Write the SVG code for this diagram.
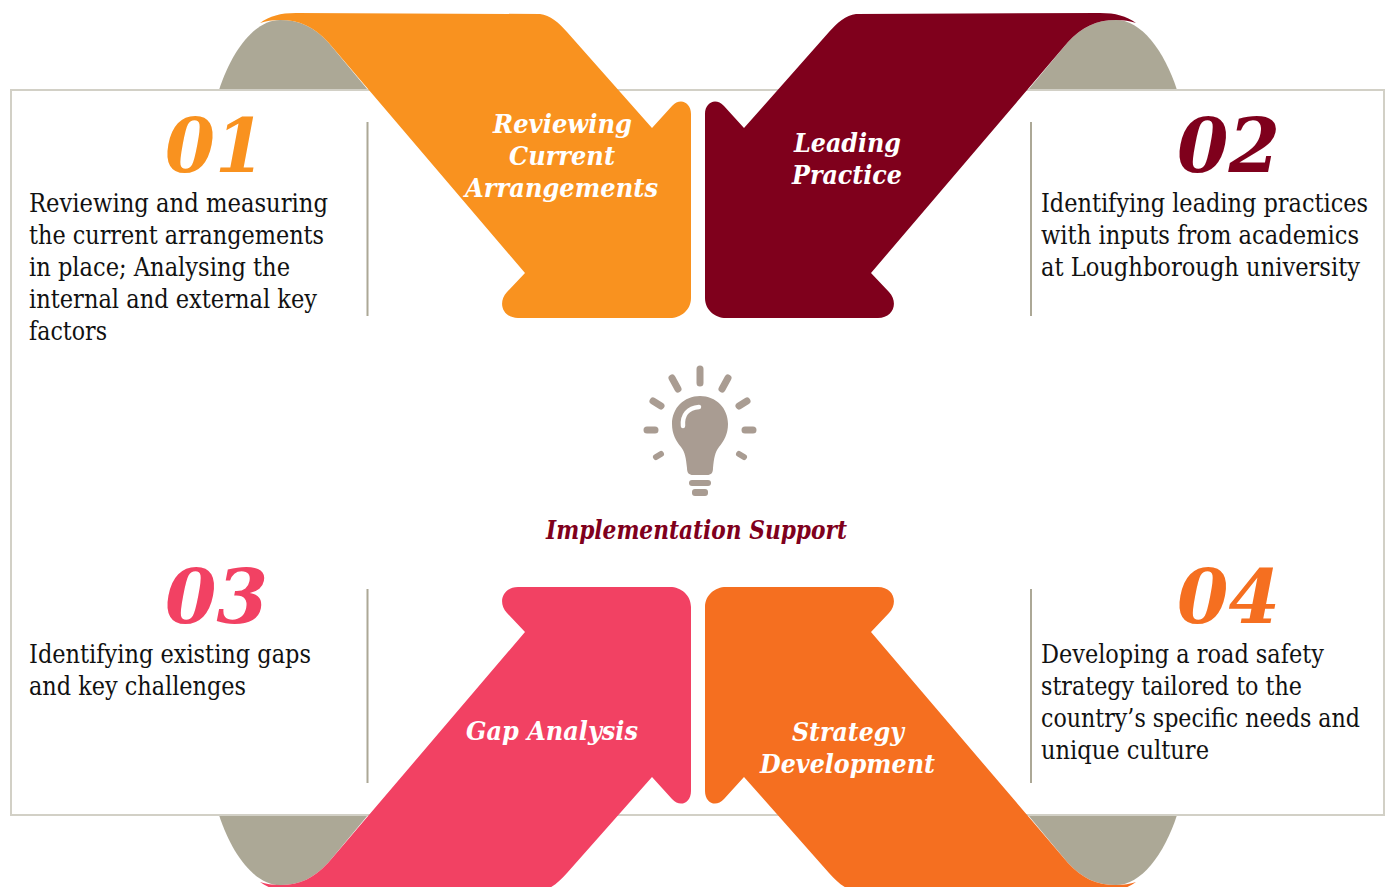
<svg xmlns="http://www.w3.org/2000/svg" xmlns:xlink="http://www.w3.org/1999/xlink" width="1386" height="887" viewBox="0 0 1386 887">
<style>
.b{font-family:"DejaVu Serif Condensed","DejaVu Serif",serif;font-size:26px;fill:#111}
.n{font-family:"DejaVu Serif Condensed","DejaVu Serif",serif;font-size:75px;font-weight:bold;font-style:italic}
.l{font-family:"DejaVu Serif Condensed","DejaVu Serif",serif;font-size:26px;font-weight:bold;font-style:italic;fill:#fff}
.d{stroke:#aca896;stroke-width:2;fill:none}
.g{fill:#aca896}
.ray{stroke:#a99c92;stroke-linecap:round;fill:none}
</style>
<defs>
<path id="ar" d="M260 23C270 16 280 13 296 13L540 14C550 15 559 23 567 32L652 128L672 106C680 97 691 102 691 114L691 298C691 310 681 318 670 318L518 318C503 318 497 303 507 292L525 273L328 42C314 27 300 20 280 20C272 20 266 21 260 23Z"/>
<path id="gr" d="M219 90C232 50 255 20 280 20C300 20 314 27 328 42L368 90Z"/>
</defs>
<g id="panels">
<use xlink:href="#gr" class="g"/>
<use xlink:href="#gr" class="g" transform="matrix(-1 0 0 1 1396 0)"/>
<use xlink:href="#gr" class="g" transform="matrix(1 0 0 -1 0 905)"/>
<use xlink:href="#gr" class="g" transform="matrix(-1 0 0 -1 1396 905)"/>
<rect x="11" y="90" width="1373" height="725" fill="#fff" stroke="#d2d0c6" stroke-width="2"/>
<path class="d" d="M367.500 122V316M1031 122V316M367.500 589V783M1031 589V783"/>
</g>
<g id="node-review">
<use xlink:href="#ar" fill="#f9921f"/>
<text class="l" x="493" y="133" textLength="139" lengthAdjust="spacingAndGlyphs">Reviewing</text>
<text class="l" x="509" y="165" textLength="106" lengthAdjust="spacingAndGlyphs">Current</text>
<text class="l" x="465" y="197" textLength="193" lengthAdjust="spacingAndGlyphs">Arrangements</text>
</g>
<g id="node-leading">
<use xlink:href="#ar" fill="#7f001c" transform="matrix(-1 0 0 1 1396 0)"/>
<text class="l" x="794" y="152" textLength="107" lengthAdjust="spacingAndGlyphs">Leading</text>
<text class="l" x="792" y="183.500" textLength="110" lengthAdjust="spacingAndGlyphs">Practice</text>
</g>
<g id="node-gap">
<use xlink:href="#ar" fill="#f24163" transform="matrix(1 0 0 -1 0 905)"/>
<text class="l" x="466" y="739.500" textLength="172" lengthAdjust="spacingAndGlyphs">Gap Analysis</text>
</g>
<g id="node-strategy">
<use xlink:href="#ar" fill="#f56f20" transform="matrix(-1 0 0 -1 1396 905)"/>
<text class="l" x="792" y="740.500" textLength="112" lengthAdjust="spacingAndGlyphs">Strategy</text>
<text class="l" x="760" y="772.500" textLength="175" lengthAdjust="spacingAndGlyphs">Development</text>
</g>
<g id="item-01">
<text class="n" x="165" y="172" fill="#f9921f" textLength="100" lengthAdjust="spacingAndGlyphs">01</text>
<text class="b" x="29" y="212" textLength="299" lengthAdjust="spacingAndGlyphs">Reviewing and measuring</text>
<text class="b" x="29" y="244" textLength="295" lengthAdjust="spacingAndGlyphs">the current arrangements</text>
<text class="b" x="29" y="276" textLength="261" lengthAdjust="spacingAndGlyphs">in place; Analysing the</text>
<text class="b" x="29" y="308" textLength="288" lengthAdjust="spacingAndGlyphs">internal and external key</text>
<text class="b" x="29" y="340" textLength="78" lengthAdjust="spacingAndGlyphs">factors</text>
</g>
<g id="item-02">
<text class="n" x="1177" y="172" fill="#7f001c" textLength="103" lengthAdjust="spacingAndGlyphs">02</text>
<text class="b" x="1041" y="212" textLength="327" lengthAdjust="spacingAndGlyphs">Identifying leading practices</text>
<text class="b" x="1041" y="244" textLength="318" lengthAdjust="spacingAndGlyphs">with inputs from academics</text>
<text class="b" x="1041" y="276" textLength="319" lengthAdjust="spacingAndGlyphs">at Loughborough university</text>
</g>
<g id="item-03">
<text class="n" x="165" y="623" fill="#f24163" textLength="103" lengthAdjust="spacingAndGlyphs">03</text>
<text class="b" x="29" y="663" textLength="282" lengthAdjust="spacingAndGlyphs">Identifying existing gaps</text>
<text class="b" x="29" y="695" textLength="217" lengthAdjust="spacingAndGlyphs">and key challenges</text>
</g>
<g id="item-04">
<text class="n" x="1177" y="623" fill="#f56f20" textLength="103" lengthAdjust="spacingAndGlyphs">04</text>
<text class="b" x="1041" y="663" textLength="283" lengthAdjust="spacingAndGlyphs">Developing a road safety</text>
<text class="b" x="1041" y="695" textLength="261" lengthAdjust="spacingAndGlyphs">strategy tailored to the</text>
<text class="b" x="1041" y="727" textLength="319" lengthAdjust="spacingAndGlyphs">country’s specific needs and</text>
<text class="b" x="1041" y="759" textLength="168" lengthAdjust="spacingAndGlyphs">unique culture</text>
</g>
<g id="node-implementation">
<path fill="#a99c92" d="M700 396C716 396 728 408 728 424C728 434 724 441 719 447C715 452 714 458 713 468C713 473 711 475 707 475L693 475C689 475 687 473 687 468C686 458 685 452 681 447C676 441 672 434 672 424C672 408 684 396 700 396Z"/>
<path fill="none" stroke="#fff" stroke-width="4.500" stroke-linecap="round" d="M683 426C682 415 688 408 699 407"/>
<rect x="689" y="480" width="22" height="6" rx="3" fill="#a99c92"/>
<rect x="692" y="489" width="16" height="7" rx="3" fill="#a99c92"/>
<g class="ray" stroke-width="7">
<path d="M700 369V383M672 378L678 389M728 378L722 389M653 401L661 406M747 401L739 406M647 430H655M745 430H753"/>
</g>
<path class="ray" stroke-width="6" d="M656 457L661 454M744 457L739 454"/>
<text class="l" x="546" y="538.500" style="fill:#7f001c" textLength="301" lengthAdjust="spacingAndGlyphs">Implementation Support</text>
</g>
</svg>
